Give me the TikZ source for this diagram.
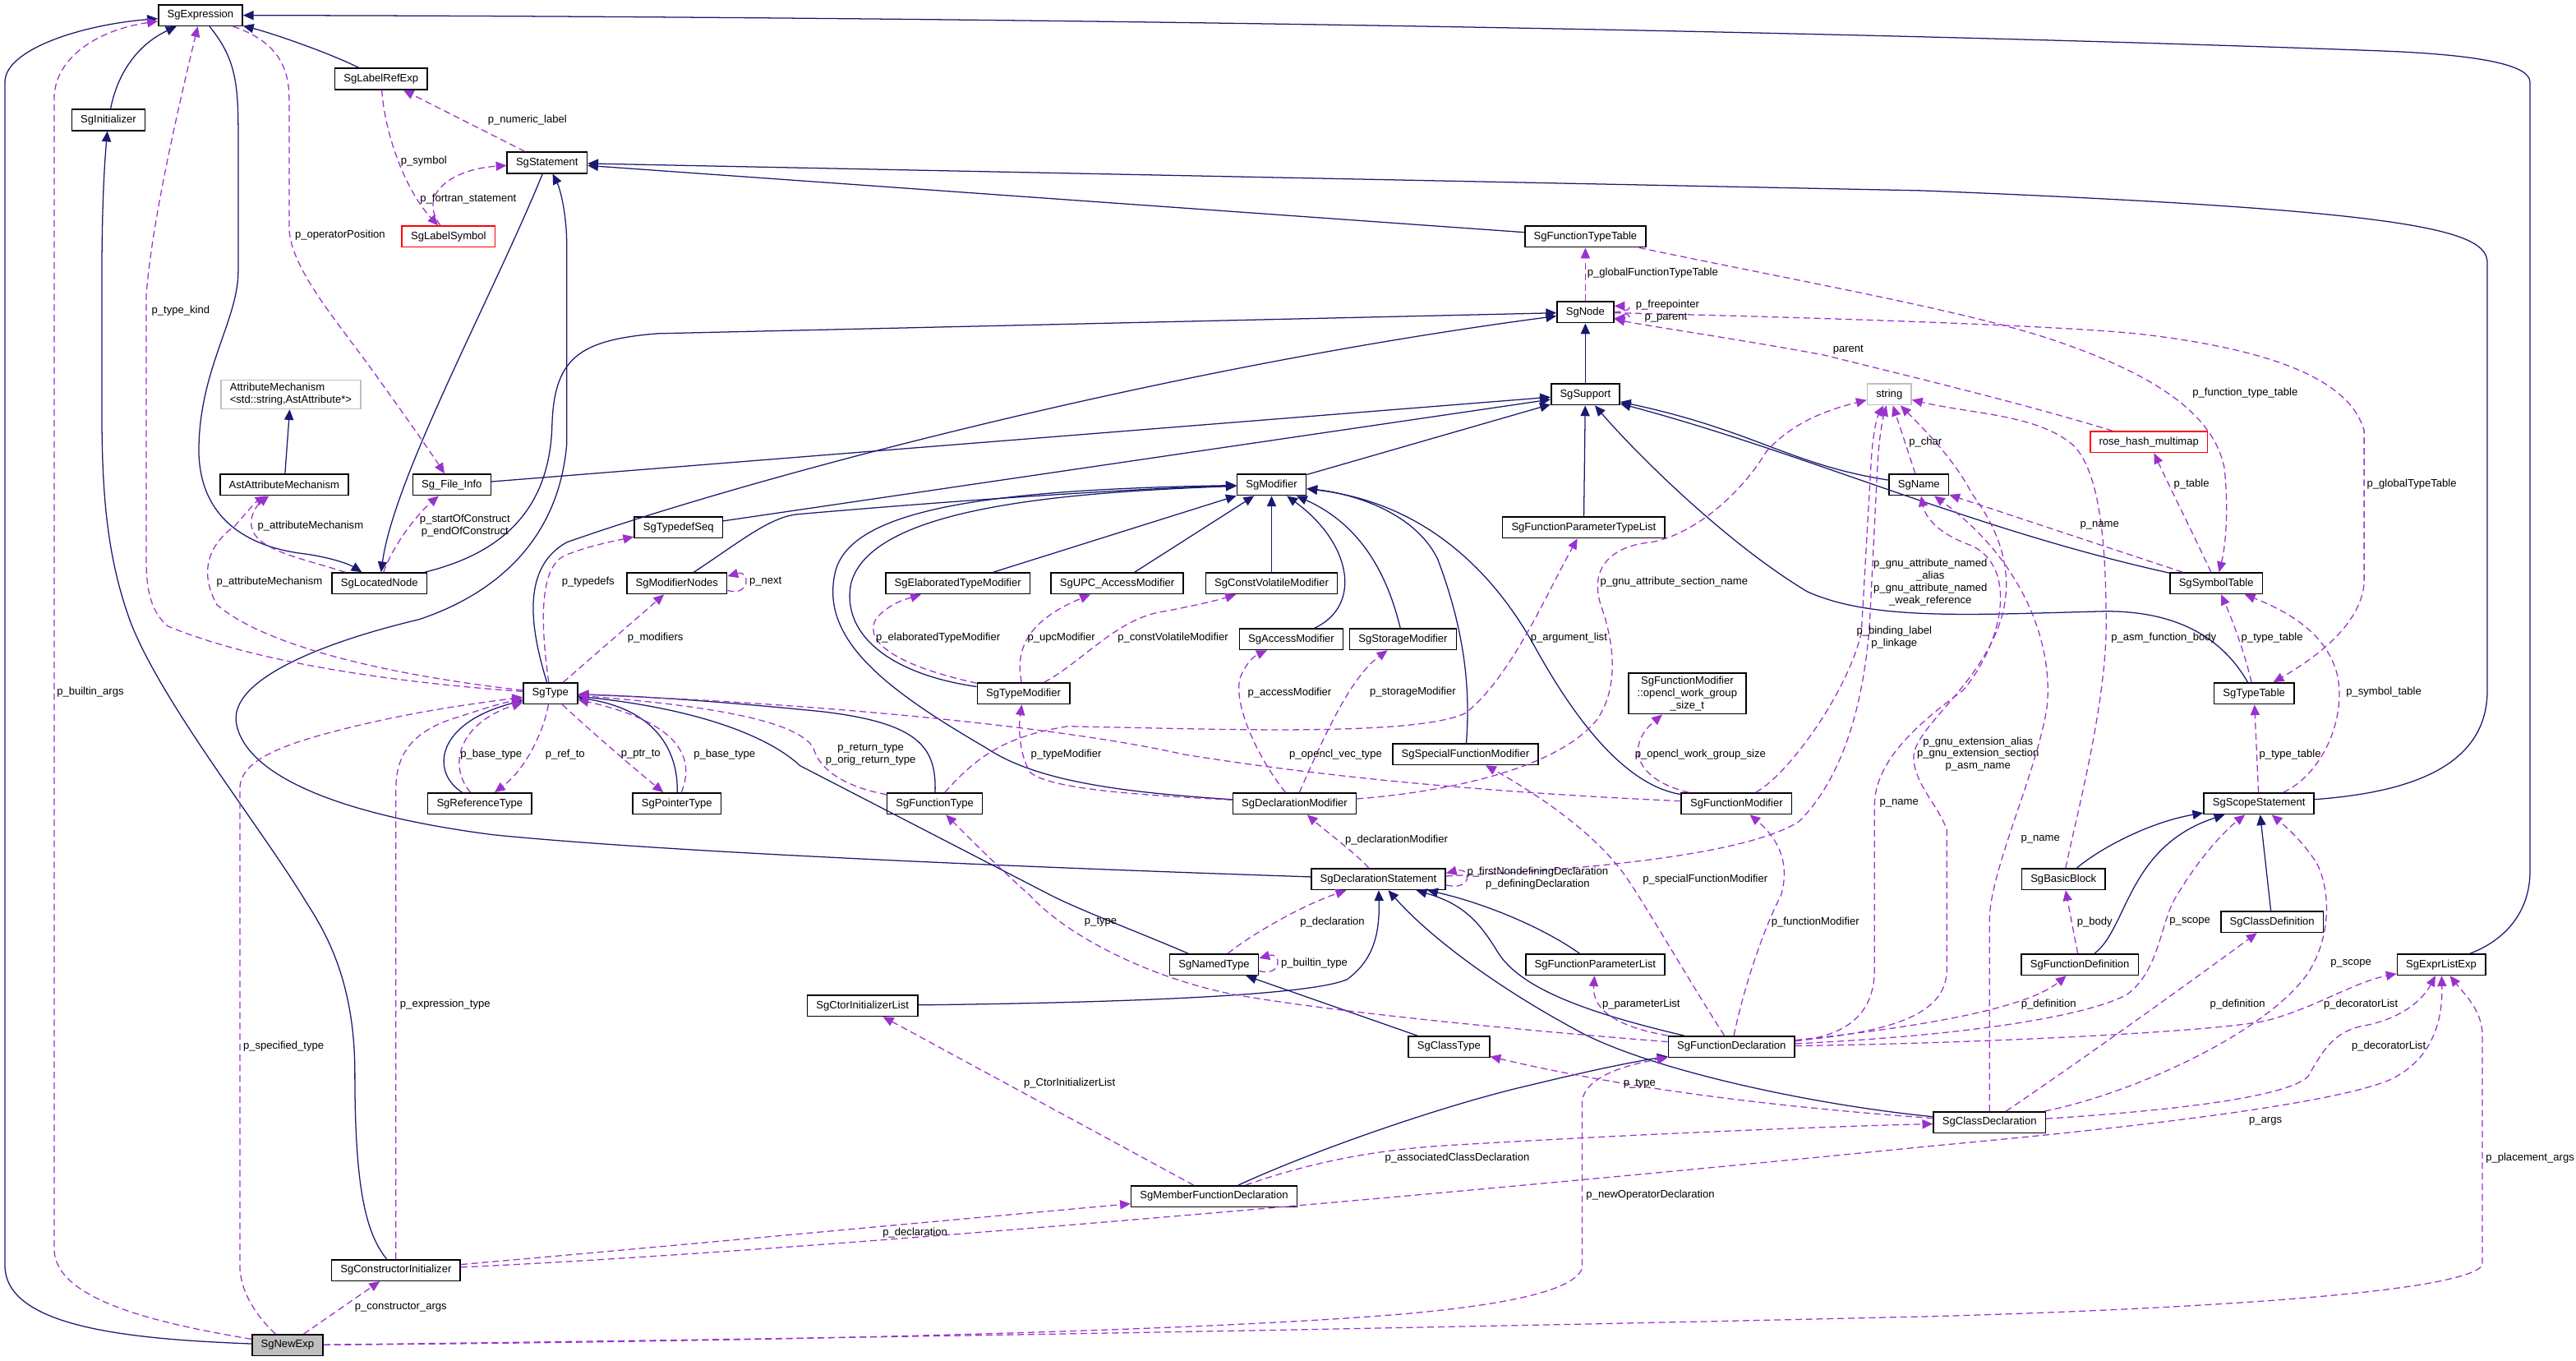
\documentclass[tikz,border=0pt]{standalone}
\usepackage{fontspec}
\setmainfont{Liberation Sans}
\usepackage{xcolor}
\usetikzlibrary{arrows.meta}
\definecolor{inhblue}{HTML}{191970}
\definecolor{usepurple}{HTML}{9A32CD}
\definecolor{extgray}{HTML}{BFBFBF}

\begin{document}
\begin{tikzpicture}[
  x=0.05cm, y=-0.05cm,
  font=\fontsize{9.3}{10.6}\selectfont,
  cls/.style={rectangle, draw=black, line width=1.1pt, minimum height=0.64cm, inner xsep=0.27cm, inner ysep=0.1cm, align=center},
  extcls/.style={cls, draw=extgray},
  redcls/.style={cls, draw=red},
  inherit/.style={draw=inhblue, line width=0.9pt, -{Triangle[length=0.32cm, width=0.28cm]}},
  uses/.style={draw=usepurple, line width=0.9pt, dash pattern=on 0.2cm off 0.12cm, -{Triangle[length=0.32cm, width=0.28cm]}},
  lbl/.style={inner sep=0pt, align=center}
]
  \useasboundingbox (0,0) rectangle (1568,828);

  % classes
  \node[cls] (SgExpression) at (122,9.3) {SgExpression};
  \node[cls] (SgLabelRefExp) at (232,48) {SgLabelRefExp};
  \node[cls] (SgInitializer) at (66,73) {SgInitializer};
  \node[cls] (SgStatement) at (333,99) {SgStatement};
  \node[redcls] (SgLabelSymbol) at (273,144) {SgLabelSymbol};
  \node[extcls, align=left] (AttributeMechanism) at (177,240) {AttributeMechanism\\<std::string,AstAttribute*>};
  \node[cls] (AstAttributeMechanism) at (173,295) {AstAttributeMechanism};
  \node[cls] (Sg_File_Info) at (275,295) {Sg\_File\_Info};
  \node[cls] (SgLocatedNode) at (231,355) {SgLocatedNode};
  \node[cls] (SgType) at (335,422) {SgType};
  \node[cls] (SgReferenceType) at (292,489) {SgReferenceType};
  \node[cls] (SgPointerType) at (412,489) {SgPointerType};
  \node[cls] (SgTypedefSeq) at (413,321) {SgTypedefSeq};
  \node[cls] (SgModifierNodes) at (412,355) {SgModifierNodes};
  \node[cls] (SgModifier) at (774,295) {SgModifier};
  \node[cls] (SgElaboratedTypeModifier) at (583,355) {SgElaboratedTypeModifier};
  \node[cls] (SgUPC_AccessModifier) at (680,355) {SgUPC\_AccessModifier};
  \node[cls] (SgConstVolatileModifier) at (774,355) {SgConstVolatileModifier};
  \node[cls] (SgTypeModifier) at (623,422) {SgTypeModifier};
  \node[cls] (SgAccessModifier) at (786,389) {SgAccessModifier};
  \node[cls] (SgStorageModifier) at (854,389) {SgStorageModifier};
  \node[cls] (SgFunctionType) at (569,489) {SgFunctionType};
  \node[cls] (SgDeclarationModifier) at (788,489) {SgDeclarationModifier};
  \node[cls] (SgFunctionParameterTypeList) at (964,321) {SgFunctionParameterTypeList};
  \node[cls] (SgOpenclWorkGroupSize) at (1027,422) {SgFunctionModifier\\::opencl\_work\_group\\\_size\_t};
  \node[cls] (SgSpecialFunctionModifier) at (892,459) {SgSpecialFunctionModifier};
  \node[cls] (SgFunctionModifier) at (1057,489) {SgFunctionModifier};
  \node[cls] (SgDeclarationStatement) at (839,535) {SgDeclarationStatement};
  \node[cls] (SgName) at (1168,295) {SgName};
  \node[redcls] (rose_hash_multimap) at (1308,269) {rose\_hash\_multimap};
  \node[cls] (SgSymbolTable) at (1349,355) {SgSymbolTable};
  \node[cls] (SgTypeTable) at (1372,422) {SgTypeTable};
  \node[cls] (SgScopeStatement) at (1375,489) {SgScopeStatement};
  \node[cls] (SgBasicBlock) at (1256,535) {SgBasicBlock};
  \node[cls] (SgClassDefinition) at (1383,561) {SgClassDefinition};
  \node[cls] (SgFunctionDefinition) at (1266,587) {SgFunctionDefinition};
  \node[cls] (SgExprListExp) at (1486,587) {SgExprListExp};
  \node[cls] (SgClassDeclaration) at (1211,683) {SgClassDeclaration};
  \node[cls] (SgFunctionParameterList) at (971,587) {SgFunctionParameterList};
  \node[cls] (SgClassType) at (882,637) {SgClassType};
  \node[cls] (SgFunctionDeclaration) at (1054,637) {SgFunctionDeclaration};
  \node[cls] (SgNamedType) at (739,587) {SgNamedType};
  \node[cls] (SgCtorInitializerList) at (525,612) {SgCtorInitializerList};
  \node[cls] (SgMemberFunctionDeclaration) at (739,728) {SgMemberFunctionDeclaration};
  \node[cls] (SgConstructorInitializer) at (241,773) {SgConstructorInitializer};
  \node[cls, fill=extgray] (SgNewExp) at (175,818.6) {SgNewExp};
  \node[cls] (SgFunctionTypeTable) at (965,144) {SgFunctionTypeTable};
  \node[cls] (SgNode) at (965,190) {SgNode};
  \node[cls] (SgSupport) at (965,240) {SgSupport};
  \node[extcls] (string) at (1150,240) {string};

  % inheritance
  \draw[inherit] (SgInitializer) .. controls (72,42) and (86,26) .. (SgExpression);
  \draw[inherit] (SgLabelRefExp) .. controls (200,32) and (165,20) .. (SgExpression);
  \draw[inherit] (SgExpression) .. controls (143,35) and (145,50) .. (145,80) -- (145,165) .. controls (145,195) and (121,225) .. (121,275) .. controls (122,322) and (160,334) .. (185,337) .. controls (200,339) and (212,343) .. (SgLocatedNode);
  \draw[inherit] (SgStatement) .. controls (300,180) and (240,290) .. (SgLocatedNode);
  \draw[inherit] (SgLocatedNode) .. controls (300,338) and (334,315) .. (336,260) .. controls (337,218) and (352,207) .. (400,203) -- (SgNode);
  \draw[inherit] (SgNewExp) .. controls (80,815) and (3,808) .. (3,770) -- (3,50) .. controls (3,30) and (50,15) .. (SgExpression);
  \draw[inherit] (SgExprListExp) .. controls (1525,572) and (1540,555) .. (1540,530) -- (1540,50) .. controls (1540,38) and (1500,33) .. (1450,31) .. controls (1100,18) and (600,10) .. (SgExpression);
  \draw[inherit] (SgScopeStatement) .. controls (1470,482) and (1514,465) .. (1514,420) -- (1514,160) .. controls (1514,140) and (1470,128) .. (1170,116) -- (SgStatement);
  \draw[inherit] (SgFunctionTypeTable) -- (SgStatement);
  \draw[inherit] (SgDeclarationStatement) .. controls (600,527) and (400,518) .. (300,508) .. controls (200,495) and (150,470) .. (144,441) .. controls (138,413) and (200,390) .. (255,377) .. controls (300,362) and (340,330) .. (345,270) -- (345,150) .. controls (345,130) and (341,115) .. (SgStatement);
  \draw[inherit] (SgSupport) -- (SgNode);
  \draw[inherit] (Sg_File_Info) -- (SgSupport);
  \draw[inherit] (SgTypedefSeq) -- (SgSupport);
  \draw[inherit] (SgModifier) -- (SgSupport);
  \draw[inherit] (SgFunctionParameterTypeList) -- (SgSupport);
  \draw[inherit] (SgTypeTable) .. controls (1355,392) and (1330,372) .. (1282,372) .. controls (1200,374) and (1140,378) .. (1100,360) .. controls (1050,330) and (995,275) .. (SgSupport);
  \draw[inherit] (SgName) .. controls (1090,283) and (1068,262) .. (SgSupport);
  \draw[inherit] (SgSymbolTable) .. controls (1200,322) and (1100,276) .. (SgSupport);
  \draw[inherit] (SgType) .. controls (322,380) and (318,345) .. (345,330) .. controls (450,293) and (700,225) .. (SgNode);
  \draw[inherit] (SgModifierNodes) .. controls (450,330) and (468,315) .. (485,313) .. controls (600,303) and (700,297) .. (SgModifier);
  \draw[inherit] (SgTypeModifier) .. controls (540,410) and (512,385) .. (518,355) .. controls (530,310) and (640,300) .. (SgModifier);
  \draw[inherit] (SgDeclarationModifier) .. controls (680,482) and (630,475) .. (600,455) .. controls (540,420) and (500,390) .. (508,350) .. controls (515,310) and (600,298) .. (SgModifier);
  \draw[inherit] (SgElaboratedTypeModifier) -- (SgModifier);
  \draw[inherit] (SgUPC_AccessModifier) -- (SgModifier);
  \draw[inherit] (SgConstVolatileModifier) -- (SgModifier);
  \draw[inherit] (SgAccessModifier) .. controls (830,368) and (822,330) .. (SgModifier);
  \draw[inherit] (SgStorageModifier) .. controls (845,352) and (830,320) .. (SgModifier);
  \draw[inherit] (SgSpecialFunctionModifier) .. controls (895,420) and (892,385) .. (875,340) .. controls (860,310) and (820,300) .. (SgModifier);
  \draw[inherit] (SgFunctionModifier) .. controls (990,478) and (960,440) .. (935,395) .. controls (905,340) and (860,305) .. (SgModifier);
  \draw[inherit] (SgReferenceType) .. controls (262,470) and (265,440) .. (SgType);
  \draw[inherit] (SgPointerType) .. controls (413,458) and (400,432) .. (SgType);
  \draw[inherit] (SgFunctionType) .. controls (570,455) and (560,440) .. (500,433) .. controls (450,428) and (400,424) .. (SgType);
  \draw[inherit] (SgNamedType) .. controls (690,566) and (660,555) .. (640,545) -- (487,466) .. controls (470,450) and (430,432) .. (SgType);
  \draw[inherit] (SgClassType) -- (SgNamedType);
  \draw[inherit] (SgCtorInitializerList) .. controls (700,610) and (800,605) .. (820,596) .. controls (835,585) and (840,570) .. (SgDeclarationStatement);
  \draw[inherit] (SgFunctionDeclaration) .. controls (960,615) and (925,600) .. (912,580) .. controls (900,560) and (890,550) .. (SgDeclarationStatement);
  \draw[inherit] (SgFunctionParameterList) .. controls (940,565) and (905,550) .. (SgDeclarationStatement);
  \draw[inherit] (SgClassDeclaration) .. controls (1100,672) and (1000,650) .. (958,626) .. controls (910,600) and (870,570) .. (SgDeclarationStatement);
  \draw[inherit] (SgMemberFunctionDeclaration) .. controls (800,700) and (880,672) .. (933,660) .. controls (970,651) and (995,646) .. (SgFunctionDeclaration);
  \draw[inherit] (SgFunctionDefinition) .. controls (1295,565) and (1295,515) .. (SgScopeStatement);
  \draw[inherit] (SgBasicBlock) .. controls (1280,515) and (1310,500) .. (SgScopeStatement);
  \draw[inherit] (SgClassDefinition) -- (SgScopeStatement);
  \draw[inherit] (SgConstructorInitializer) .. controls (222,750) and (216,720) .. (216,653) .. controls (216,600) and (200,570) .. (187,550) .. controls (160,505) and (100,430) .. (80,380) .. controls (65,340) and (62,300) .. (62,250) -- (62,170) .. controls (62,120) and (64,95) .. (SgInitializer);
  \draw[inherit] (AstAttributeMechanism) -- (AttributeMechanism);

  % members
  \draw[uses] (SgNewExp) .. controls (100,806) and (33,792) .. (33,760) -- (33,60) .. controls (33,35) and (60,18) .. (SgExpression);
  \draw[uses] (SgNewExp) .. controls (155,800) and (146,785) .. (146,770) -- (146,480) .. controls (146,465) and (165,455) .. (204,445) .. controls (250,433) and (290,428) .. (SgType);
  \draw[uses] (SgConstructorInitializer) -- (241,480) .. controls (241,458) and (252,444) .. (280,436) .. controls (295,431) and (305,428) .. (SgType);
  \draw[uses] (SgNewExp) -- (SgConstructorInitializer);
  \draw[uses] (SgNewExp) .. controls (400,816) and (800,810) .. (1180,801) .. controls (1350,796) and (1500,786) .. (1511,770) -- (1511,630) .. controls (1511,615) and (1500,605) .. (SgExprListExp);
  \draw[uses] (SgNewExp) .. controls (400,817) and (700,812) .. (850,800) .. controls (920,794) and (958,785) .. (963,772) -- (963,670) .. controls (965,655) and (990,648) .. (SgFunctionDeclaration);
  \draw[uses] (SgConstructorInitializer) .. controls (400,759) and (550,745) .. (SgMemberFunctionDeclaration);
  \draw[uses] (SgConstructorInitializer) .. controls (500,761) and (900,725) .. (1180,697) .. controls (1300,686) and (1420,672) .. (1455,657) .. controls (1480,645) and (1487,622) .. (SgExprListExp);
  \draw[uses] (SgMemberFunctionDeclaration) .. controls (790,710) and (830,700) .. (882,697) .. controls (1000,690) and (1100,686) .. (SgClassDeclaration);
  \draw[uses] (SgMemberFunctionDeclaration) -- (SgCtorInitializerList);
  \draw[uses] (SgClassDeclaration) .. controls (1100,675) and (1000,665) .. (SgClassType);
  \draw[uses] (SgClassDeclaration) .. controls (1260,650) and (1330,600) .. (SgClassDefinition);
  \draw[uses] (SgClassDeclaration) .. controls (1300,665) and (1380,628) .. (1405,592) .. controls (1420,568) and (1418,540) .. (1410,525) .. controls (1400,510) and (1390,502) .. (SgScopeStatement);
  \draw[uses] (SgClassDeclaration) .. controls (1320,676) and (1392,668) .. (1405,655) .. controls (1415,637) and (1422,627) .. (1440,624) .. controls (1465,619) and (1476,606) .. (SgExprListExp);
  \draw[uses] (SgFunctionDeclaration) .. controls (1200,635) and (1350,628) .. (1380,621) .. controls (1410,613) and (1432,598) .. (SgExprListExp);
  \draw[uses] (SgFunctionDeclaration) .. controls (1200,630) and (1272,618) .. (1295,605) .. controls (1315,590) and (1315,560) .. (1325,545) .. controls (1340,520) and (1355,505) .. (SgScopeStatement);
  \draw[uses] (SgFunctionDeclaration) .. controls (1160,626) and (1232,615) .. (SgFunctionDefinition);
  \draw[uses] (SgClassDeclaration) -- (1211,560) .. controls (1211,530) and (1240,470) .. (1246,430) .. controls (1250,390) and (1230,340) .. (SgName);
  \draw[uses] (SgFunctionDeclaration) .. controls (1120,631) and (1141,620) .. (1141,590) -- (1141,490) .. controls (1141,460) and (1175,435) .. (1195,420) .. controls (1220,390) and (1228,345) .. (1200,332) .. controls (1180,325) and (1172,315) .. (SgName);
  \draw[uses] (SgFunctionDeclaration) .. controls (1150,628) and (1185,618) .. (1185,590) -- (1185,505) .. controls (1180,490) and (1163,475) .. (1165,458) .. controls (1170,440) and (1200,420) .. (1215,385) .. controls (1230,350) and (1215,320) .. (1200,300) .. controls (1190,280) and (1170,260) .. (string);
  \draw[uses] (SgDeclarationStatement) .. controls (950,530) and (1060,522) .. (1095,500) .. controls (1125,470) and (1135,420) .. (1138,380) -- (1143,280) .. controls (1144,265) and (1146,255) .. (string);
  \draw[uses] (SgFunctionModifier) .. controls (1090,470) and (1125,420) .. (1133,385) -- (1139,280) .. controls (1140,265) and (1142,255) .. (string);
  \draw[uses] (SgFunctionDeclaration) .. controls (985,625) and (969,615) .. (SgFunctionParameterList);
  \draw[uses] (SgFunctionDeclaration) .. controls (1062,598) and (1075,562) .. (1084,545) .. controls (1090,525) and (1082,510) .. (SgFunctionModifier);
  \draw[uses] (SgFunctionDeclaration) .. controls (1030,600) and (1003,553) .. (990,534) .. controls (970,505) and (930,480) .. (SgSpecialFunctionModifier);
  \draw[uses] (SgFunctionDeclaration) .. controls (900,625) and (800,614) .. (750,605) .. controls (700,595) and (650,570) .. (627,545) .. controls (610,530) and (592,512) .. (SgFunctionType);
  \draw[uses] (SgNamedType) .. controls (760,570) and (790,552) .. (SgDeclarationStatement);
  \draw[uses] (SgNamedType.-8) .. controls +(14,4) and +(14,-4) .. (SgNamedType.8);
  \draw[uses] (SgDeclarationStatement.-5) .. controls +(16,4) and +(16,-4) .. (SgDeclarationStatement.5);
  \draw[uses] (SgDeclarationStatement) .. controls (826,520) and (806,505) .. (SgDeclarationModifier);
  \draw[uses] (SgFunctionModifier) .. controls (997,475) and (988,455) .. (SgOpenclWorkGroupSize);
  \draw[uses] (SgFunctionModifier) .. controls (900,482) and (800,472) .. (720,459) .. controls (650,443) and (500,428) .. (SgType);
  \draw[uses] (SgDeclarationModifier) .. controls (880,482) and (948,468) .. (972,438) .. controls (986,418) and (982,390) .. (975,370) .. controls (966,345) and (982,332) .. (1005,330) .. controls (1032,325) and (1060,300) .. (1075,275) .. controls (1090,258) and (1110,250) .. (string);
  \draw[uses] (SgFunctionType) .. controls (595,460) and (612,448) .. (650,442) .. controls (750,444) and (862,448) .. (892,434) .. controls (920,412) and (942,360) .. (SgFunctionParameterTypeList);
  \draw[uses] (SgFunctionType) .. controls (510,478) and (498,466) .. (495,455) .. controls (486,440) and (440,430) .. (SgType);
  \draw[uses] (SgDeclarationModifier) .. controls (700,484) and (640,481) .. (627,470) .. controls (620,458) and (620,442) .. (SgTypeModifier);
  \draw[uses] (SgDeclarationModifier) .. controls (766,462) and (750,428) .. (755,412) .. controls (758,405) and (762,400) .. (SgAccessModifier);
  \draw[uses] (SgDeclarationModifier) .. controls (805,450) and (822,412) .. (SgStorageModifier);
  \draw[uses] (SgTypeModifier) .. controls (550,406) and (525,392) .. (533,377) .. controls (540,368) and (550,365) .. (SgElaboratedTypeModifier);
  \draw[uses] (SgTypeModifier) .. controls (619,400) and (620,380) .. (SgUPC_AccessModifier);
  \draw[uses] (SgTypeModifier) .. controls (660,402) and (680,376) .. (709,372) .. controls (730,368) and (742,365) .. (SgConstVolatileModifier);
  \draw[uses] (SgType) .. controls (329,380) and (328,345) .. (344,338) .. controls (356,333) and (370,330) .. (SgTypedefSeq);
  \draw[uses] (SgType) -- (SgModifierNodes);
  \draw[uses] (SgModifierNodes.-8) .. controls +(14,4) and +(14,-4) .. (SgModifierNodes.8);
  \draw[uses] (SgLocatedNode) .. controls (185,340) and (155,335) .. (153,320) .. controls (152,312) and (158,306) .. (AstAttributeMechanism);
  \draw[uses] (SgType) .. controls (230,410) and (160,392) .. (132,368) .. controls (122,350) and (125,333) .. (143,320) .. controls (150,312) and (155,306) .. (AstAttributeMechanism);
  \draw[uses] (SgType) .. controls (250,416) and (160,405) .. (102,381) .. controls (92,372) and (89,360) .. (89,340) -- (89,180) .. controls (92,140) and (105,80) .. (SgExpression);
  \draw[uses] (SgLocatedNode) .. controls (240,330) and (255,312) .. (Sg_File_Info);
  \draw[uses] (SgExpression) .. controls (168,25) and (176,40) .. (176,60) -- (176,140) .. controls (178,165) and (205,195) .. (230,230) .. controls (250,258) and (262,275) .. (Sg_File_Info);
  \draw[uses] (SgReferenceType) .. controls (272,465) and (280,440) .. (SgType);
  \draw[uses] (SgType) .. controls (331,445) and (320,468) .. (SgReferenceType);
  \draw[uses] (SgType) .. controls (350,436) and (372,456) .. (SgPointerType);
  \draw[uses] (SgPointerType) .. controls (423,462) and (415,440) .. (SgType);
  \draw[uses] (SgStatement) -- (SgLabelRefExp);
  \draw[uses] (SgLabelRefExp) .. controls (234,80) and (246,115) .. (SgLabelSymbol);
  \draw[uses] (SgLabelSymbol) .. controls (254,118) and (275,103) .. (SgStatement);
  \draw[uses] (SgNode) -- (SgFunctionTypeTable);
  \draw[uses] (SgNode.east) .. controls +(12,-1) and +(10,0) .. (SgNode.12);
  \draw[uses] (SgNode.east) .. controls +(12,1) and +(10,0) .. (SgNode.-12);
  \draw[uses] (SgNode) .. controls (1100,193) and (1250,198) .. (1300,203) .. controls (1380,212) and (1430,230) .. (1439,262) -- (1439,355) .. controls (1437,380) and (1410,400) .. (SgTypeTable);
  \draw[uses] (rose_hash_multimap) .. controls (1230,245) and (1150,226) .. (1110,216) .. controls (1050,205) and (1000,198) .. (SgNode);
  \draw[uses] (SgFunctionTypeTable) .. controls (1100,172) and (1200,190) .. (1250,207) .. controls (1318,230) and (1348,255) .. (1354,285) .. controls (1357,315) and (1354,335) .. (SgSymbolTable);
  \draw[uses] (SgSymbolTable) .. controls (1335,325) and (1320,295) .. (rose_hash_multimap);
  \draw[uses] (SgSymbolTable) -- (SgName);
  \draw[uses] (SgTypeTable) .. controls (1367,400) and (1360,380) .. (SgSymbolTable);
  \draw[uses] (SgScopeStatement) .. controls (1412,472) and (1428,440) .. (1423,412) .. controls (1418,390) and (1400,375) .. (SgSymbolTable);
  \draw[uses] (SgScopeStatement) -- (SgTypeTable);
  \draw[uses] (SgName) -- (string);
  \draw[uses] (SgBasicBlock) .. controls (1263,500) and (1282,430) .. (1282,380) .. controls (1282,320) and (1276,285) .. (1262,271) .. controls (1240,252) and (1200,252) .. (string);
  \draw[uses] (SgFunctionDefinition) -- (SgBasicBlock);

  % member labels
  \node[lbl] (lNumericLabel) at (321,73) {p\_numeric\_label};
  \node[lbl] (lSymbol) at (258,98) {p\_symbol};
  \node[lbl] (lFortranStatement) at (285,121) {p\_fortran\_statement};
  \node[lbl] (lOperatorPosition) at (207,143) {p\_operatorPosition};
  \node[lbl] (lTypeKind) at (110,189) {p\_type\_kind};
  \node[lbl] (lAttrMechA) at (189,320) {p\_attributeMechanism};
  \node[lbl] (lConstruct) at (283,320) {p\_startOfConstruct\\p\_endOfConstruct};
  \node[lbl] (lAttrMechB) at (164,354) {p\_attributeMechanism};
  \node[lbl] (lTypedefs) at (358,354) {p\_typedefs};
  \node[lbl] (lBuiltinArgs) at (55,421) {p\_builtin\_args};
  \node[lbl] (lBaseTypeA) at (299,459) {p\_base\_type};
  \node[lbl] (lRefTo) at (344,459) {p\_ref\_to};
  \node[lbl] (lPtrTo) at (390,459) {p\_ptr\_to};
  \node[lbl] (lBaseTypeB) at (441,459) {p\_base\_type};
  \node[lbl] (lModifiers) at (399,388) {p\_modifiers};
  \node[lbl] (lNext) at (466,354) {p\_next};
  \node[lbl] (lElaborated) at (571,388) {p\_elaboratedTypeModifier};
  \node[lbl] (lUpc) at (646,388) {p\_upcModifier};
  \node[lbl] (lConstVolatile) at (714,388) {p\_constVolatileModifier};
  \node[lbl] (lAccess) at (785,421.5) {p\_accessModifier};
  \node[lbl] (lReturnType) at (530,459) {p\_return\_type\\p\_orig\_return\_type};
  \node[lbl] (lTypeModifier) at (649,459) {p\_typeModifier};
  \node[lbl] (lSectionName) at (1019,354) {p\_gnu\_attribute\_section\_name};
  \node[lbl] (lArgumentList) at (955,388) {p\_argument\_list};
  \node[lbl] (lStorage) at (860,421) {p\_storageModifier};
  \node[lbl] (lVecType) at (813,459) {p\_opencl\_vec\_type};
  \node[lbl] (lWorkGroup) at (1035,459) {p\_opencl\_work\_group\_size};
  \node[lbl] (lDeclModifier) at (850,511) {p\_declarationModifier};
  \node[lbl] (lDefining) at (936,534.5) {p\_firstNondefiningDeclaration\\p\_definingDeclaration};
  \node[lbl] (lSpecial) at (1038,535) {p\_specialFunctionModifier};
  \node[lbl] (lBinding) at (1153,388) {p\_binding\_label\\p\_linkage};
  \node[lbl] (lGnuNamed) at (1175,354.3) {p\_gnu\_attribute\_named\\\_alias\\p\_gnu\_attribute\_named\\\_weak\_reference};
  \node[lbl] (lNameA) at (1156,489) {p\_name};
  \node[lbl] (lChar) at (1172,269) {p\_char};
  \node[lbl] (lTable) at (1334,294.5) {p\_table};
  \node[lbl] (lGlobalType) at (1468,294.5) {p\_globalTypeTable};
  \node[lbl] (lNameB) at (1278,320) {p\_name};
  \node[lbl] (lAsmBody) at (1317,388) {p\_asm\_function\_body};
  \node[lbl] (lTypeTableA) at (1383,388) {p\_type\_table};
  \node[lbl] (lSymbolTable) at (1451,421) {p\_symbol\_table};
  \node[lbl] (lTypeTableB) at (1394,459) {p\_type\_table};
  \node[lbl] (lGnuExt) at (1204,458.9) {p\_gnu\_extension\_alias\\p\_gnu\_extension\_section\\p\_asm\_name};
  \node[lbl] (lNameC) at (1242,511) {p\_name};
  \node[lbl] (lBody) at (1275,561) {p\_body};
  \node[lbl] (lScopeA) at (1333,561) {p\_scope};
  \node[lbl] (lScopeB) at (1431,586.3) {p\_scope};
  \node[lbl] (lDefA) at (1247,611.4) {p\_definition};
  \node[lbl] (lDefB) at (1362,611.4) {p\_definition};
  \node[lbl] (lDecoA) at (1437,611.4) {p\_decoratorList};
  \node[lbl] (lDecoB) at (1454,637) {p\_decoratorList};
  \node[lbl] (lArgs) at (1379,682.5) {p\_args};
  \node[lbl] (lPlacement) at (1540,705) {p\_placement\_args};
  \node[lbl] (lDeclA) at (811,561) {p\_declaration};
  \node[lbl] (lBuiltinType) at (800,586) {p\_builtin\_type};
  \node[lbl] (lFuncModifier) at (1105,561) {p\_functionModifier};
  \node[lbl] (lParamList) at (999,611.4) {p\_parameterList};
  \node[lbl] (lTypeA) at (998,659.3) {p\_type};
  \node[lbl] (lAssocClass) at (887,705) {p\_associatedClassDeclaration};
  \node[lbl] (lNewOp) at (1004.6,727.3) {p\_newOperatorDeclaration};
  \node[lbl] (lTypeB) at (670,561) {p\_type};
  \node[lbl] (lCtorList) at (651,659.3) {p\_CtorInitializerList};
  \node[lbl] (lDeclB) at (557,750.4) {p\_declaration};
  \node[lbl] (lExprType) at (271,611.4) {p\_expression\_type};
  \node[lbl] (lSpecType) at (172.6,637) {p\_specified\_type};
  \node[lbl] (lCtorArgs) at (244,795.4) {p\_constructor\_args};
  \node[lbl] (lGlobalFuncType) at (1006,166.3) {p\_globalFunctionTypeTable};
  \node[lbl] (lFreePointer) at (1015,185.7) {p\_freepointer};
  \node[lbl] (lParent) at (1014,193.2) {p\_parent};
  \node[lbl] (lHashParent) at (1125,213) {parent};
  \node[lbl] (lFuncTypeTable) at (1366.6,239.3) {p\_function\_type\_table};
\end{tikzpicture}
\end{document}
